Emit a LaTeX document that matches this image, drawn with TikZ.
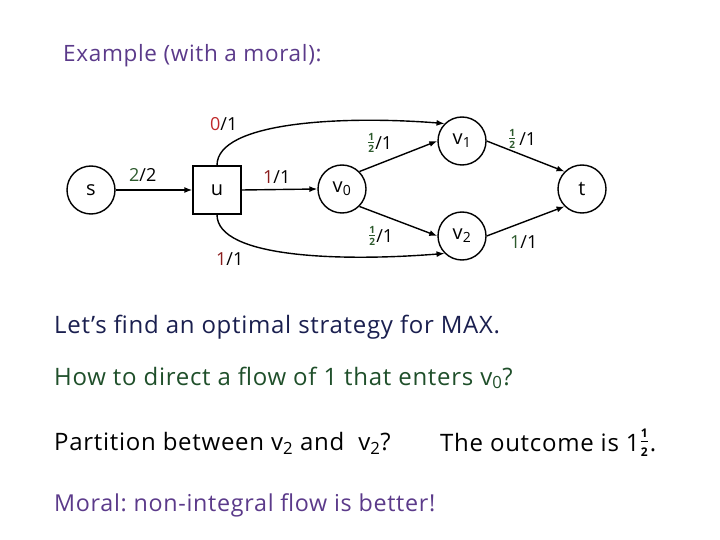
\documentclass[tikz,border=0pt]{standalone}
\usepackage{amsmath}
\usepackage{fontspec}
\setmainfont{Open Sans}
\newfontfamily\widefont[LetterSpace=3]{Open Sans}
\frenchspacing
\usetikzlibrary{arrows.meta}
\definecolor{lred}{HTML}{C0282A}
\definecolor{dred}{HTML}{8B1D1D}
\definecolor{lgreen}{HTML}{2D5A2D}
\definecolor{navy}{HTML}{1A1F4F}
\definecolor{tgreen}{HTML}{1F4F2A}
\definecolor{purp}{HTML}{5B3A8A}
\newcommand\hf{\raisebox{3pt}{\ensuremath{\genfrac{}{}{0.7pt}{}{\mbox{\fontsize{10}{10}\selectfont\bfseries 1}}{\mbox{\fontsize{10}{10}\selectfont\bfseries 2}}}}}
\newcommand\hfbig{\raisebox{3.5pt}{\ensuremath{\genfrac{}{}{0.8pt}{}{\mbox{\fontsize{12}{12}\selectfont\bfseries 1}}{\mbox{\fontsize{12}{12}\selectfont\bfseries 2}}}}}
\begin{document}
\begin{tikzpicture}[x=1pt,y=-1pt,
  vx/.style={circle,draw,line width=1.4pt,minimum size=48pt,inner sep=0pt,font=\fontsize{20}{22}\selectfont},
  bx/.style={rectangle,draw,line width=1.4pt,minimum size=48pt,inner sep=0pt,font=\fontsize{20}{22}\selectfont},
  edge/.style={line width=1.4pt,-{Latex[length=8pt,width=6pt]}},
  lab/.style={anchor=base west,inner sep=0pt,font=\fontsize{18}{20}\selectfont},
  txt/.style={anchor=base west,inner sep=0pt,font=\widefont\fontsize{24}{28}\selectfont}]
\useasboundingbox (0,0) rectangle (720,540);
\node[vx] (s) at (91,190) {s};
\node[bx] (u) at (217,190) {u};
\node[vx] (v0) at (342,189) {v\textsubscript{0}};
\node[vx] (v1) at (462,141) {v\textsubscript{1}};
\node[vx] (v2) at (462,236) {v\textsubscript{2}};
\node[vx] (t) at (582,189) {t};
\draw[edge] (s.east) -- (u.west);
\draw[edge] (u.east) -- (v0.west);
\draw[edge] (v0.45) -- (v1.west);
\draw[edge] (v0.-45) -- (v2.west);
\draw[edge] (v1.east) -- (t.135);
\draw[edge] (v2.east) -- (t.225);
\draw[edge] (u.north) .. controls +(0,-44) and +(-100,-8) .. (v1.135);
\draw[edge] (u.south) .. controls +(0,44) and +(-100,8) .. (v2.225);
\node[lab] (l1) at (129,181.5) {\textcolor{lgreen}{2}/2};
\node[lab] (l2) at (210,130.5) {\textcolor{lred}{0}/1};
\node[lab] (l3) at (263,184) {\textcolor{dred}{1}/1};
\node[lab] (l4) at (216,265.5) {\textcolor{dred}{1}/1};
\node[lab] (l5) at (367,150) {\textcolor{lgreen}{\hf}/1};
\node[lab] (l6) at (368,243) {\textcolor{lgreen}{\hf}/1};
\node[lab] (l7) at (508,146) {\textcolor{lgreen}{\hf}\,/1};
\node[lab] (l8) at (510,248) {\textcolor{lgreen}{1}/1};
\node[txt,text=purp,font=\widefont\fontsize{22.5}{26}\selectfont] (title) at (63,61.5) {Example (with a moral):};
\node[txt,text=navy] (q1) at (54,333) {Let’s find an optimal strategy for MAX.};
\node[txt,text=tgreen] (q2) at (54,385) {How to direct a flow of 1 that enters v\textsubscript{0}?};
\node[txt] (q3) at (54,450.5) {Partition between v\textsubscript{2} and~ v\textsubscript{2}?};
\node[txt] (q4) at (440,451) {The outcome is 1\hfbig\kern1pt.};
\node[txt,text=purp,font=\widefont\fontsize{23.3}{27}\selectfont] (q5) at (54,511.5) {Moral: non-integral flow is better!};
\end{tikzpicture}
\end{document}
